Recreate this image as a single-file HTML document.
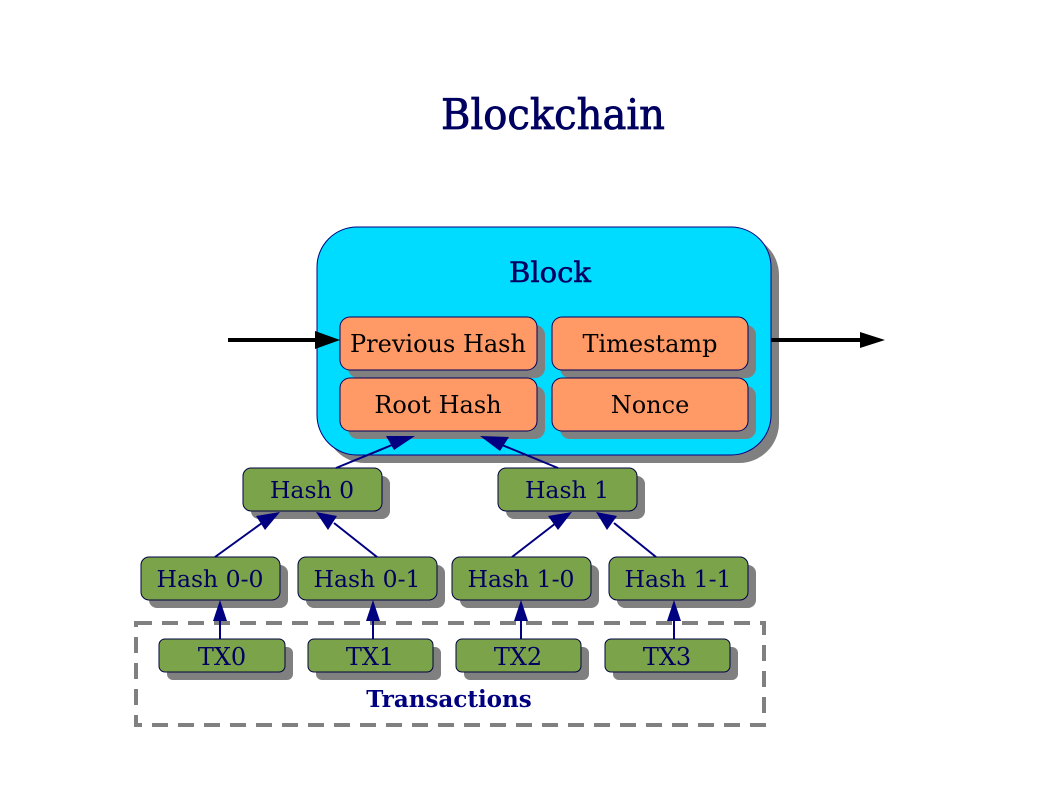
<!DOCTYPE html>
<html><head><style>body{margin:0;background:#fff}</style></head><body>
<svg width="1058" height="794" xmlns="http://www.w3.org/2000/svg" font-family="'DejaVu Serif',serif">
<rect width="1058" height="794" fill="#fff"/>
<text x="553" y="129" text-anchor="middle" font-size="42" fill="#000060" stroke="#000060" stroke-width="0.8" textLength="224" lengthAdjust="spacingAndGlyphs">Blockchain</text>
<rect x="325" y="235" width="454" height="228" rx="40" fill="#808080"/>
<rect x="317" y="227" width="454" height="228" rx="40" fill="#00dcff" stroke="#000080" stroke-width="1"/>
<text x="550" y="282" text-anchor="middle" font-size="28" fill="#000060" stroke="#000060" stroke-width="0.5" textLength="82" lengthAdjust="spacingAndGlyphs">Block</text>
<g stroke="#000060" stroke-width="1">
<rect x="348" y="325" width="197" height="53" rx="10" fill="#808080" stroke="none"/>
<rect x="560" y="325" width="196" height="53" rx="10" fill="#808080" stroke="none"/>
<rect x="348" y="386" width="197" height="53" rx="10" fill="#808080" stroke="none"/>
<rect x="560" y="386" width="196" height="53" rx="10" fill="#808080" stroke="none"/>
<rect x="340" y="317" width="197" height="53" rx="10" fill="#ff9966"/>
<rect x="552" y="317" width="196" height="53" rx="10" fill="#ff9966"/>
<rect x="340" y="378" width="197" height="53" rx="10" fill="#ff9966"/>
<rect x="552" y="378" width="196" height="53" rx="10" fill="#ff9966"/>
</g>
<g font-size="24" text-anchor="middle" fill="#000">
<text x="438" y="352">Previous Hash</text>
<text x="650" y="352">Timestamp</text>
<text x="438" y="413">Root Hash</text>
<text x="650" y="413">Nonce</text>
</g>
<line x1="228" y1="340" x2="318" y2="340" stroke="#000" stroke-width="4"/>
<path d="M315,331L340,340L315,349z" fill="#000"/>
<line x1="771" y1="340" x2="862" y2="340" stroke="#000" stroke-width="4"/>
<path d="M860,332L885,340L860,348z" fill="#000"/>
<rect x="136" y="623" width="628" height="102" fill="none" stroke="#808080" stroke-width="4" stroke-dasharray="16 10"/>
<text x="449" y="707" text-anchor="middle" font-size="23" font-weight="bold" fill="#000080">Transactions</text>
<g fill="#808080">
<rect x="251" y="476" width="139" height="43" rx="8"/>
<rect x="506" y="476" width="139" height="43" rx="8"/>
<rect x="149" y="565" width="139" height="43" rx="8"/>
<rect x="306" y="565" width="139" height="43" rx="8"/>
<rect x="460" y="565" width="139" height="43" rx="8"/>
<rect x="617" y="565" width="139" height="43" rx="8"/>
<rect x="167" y="647" width="126" height="33" rx="6"/>
<rect x="316" y="647" width="125" height="33" rx="6"/>
<rect x="464" y="647" width="125" height="33" rx="6"/>
<rect x="613" y="647" width="125" height="33" rx="6"/>
</g>
<g fill="#7ba34a" stroke="#000040" stroke-width="1">
<rect x="243" y="468" width="139" height="43" rx="8"/>
<rect x="498" y="468" width="139" height="43" rx="8"/>
<rect x="141" y="557" width="139" height="43" rx="8"/>
<rect x="298" y="557" width="139" height="43" rx="8"/>
<rect x="452" y="557" width="139" height="43" rx="8"/>
<rect x="609" y="557" width="139" height="43" rx="8"/>
<rect x="159" y="639" width="126" height="33" rx="6"/>
<rect x="308" y="639" width="125" height="33" rx="6"/>
<rect x="456" y="639" width="125" height="33" rx="6"/>
<rect x="605" y="639" width="125" height="33" rx="6"/>
</g>
<g font-size="23.5" text-anchor="middle" fill="#000060">
<text x="312" y="498">Hash 0</text>
<text x="567" y="498">Hash 1</text>
<text x="210" y="587">Hash 0-0</text>
<text x="367" y="587">Hash 0-1</text>
<text x="521" y="587">Hash 1-0</text>
<text x="678" y="587">Hash 1-1</text>
</g>
<g font-size="24" text-anchor="middle" fill="#000060">
<text x="222" y="665">TX0</text>
<text x="370" y="665">TX1</text>
<text x="518" y="665">TX2</text>
<text x="667" y="665">TX3</text>
</g>
<g stroke="#000080" stroke-width="2" fill="#000080">
<line x1="336" y1="468" x2="392" y2="445"/><path d="M415,436L386,436L394,450z" stroke="none"/>
<line x1="558" y1="468" x2="502" y2="445"/><path d="M480,436L500,451L509,437z" stroke="none"/>
<line x1="215" y1="557" x2="262" y2="523"/><path d="M280,512L256,516L265,530z" stroke="none"/>
<line x1="377" y1="557" x2="334" y2="523"/><path d="M316,512L328,530L337,516z" stroke="none"/>
<line x1="512" y1="557" x2="556" y2="523"/><path d="M572,512L548,516L558,530z" stroke="none"/>
<line x1="656" y1="557" x2="614" y2="523"/><path d="M596,512L607,530L617,516z" stroke="none"/>
<line x1="220" y1="639" x2="220" y2="618"/><path d="M220,600L213,621L227,621z" stroke="none"/>
<line x1="373" y1="639" x2="373" y2="618"/><path d="M373,600L366,621L380,621z" stroke="none"/>
<line x1="521" y1="639" x2="521" y2="618"/><path d="M521,600L514,621L528,621z" stroke="none"/>
<line x1="674" y1="639" x2="674" y2="618"/><path d="M674,600L667,621L681,621z" stroke="none"/>
</g>
</svg>
</body></html>
